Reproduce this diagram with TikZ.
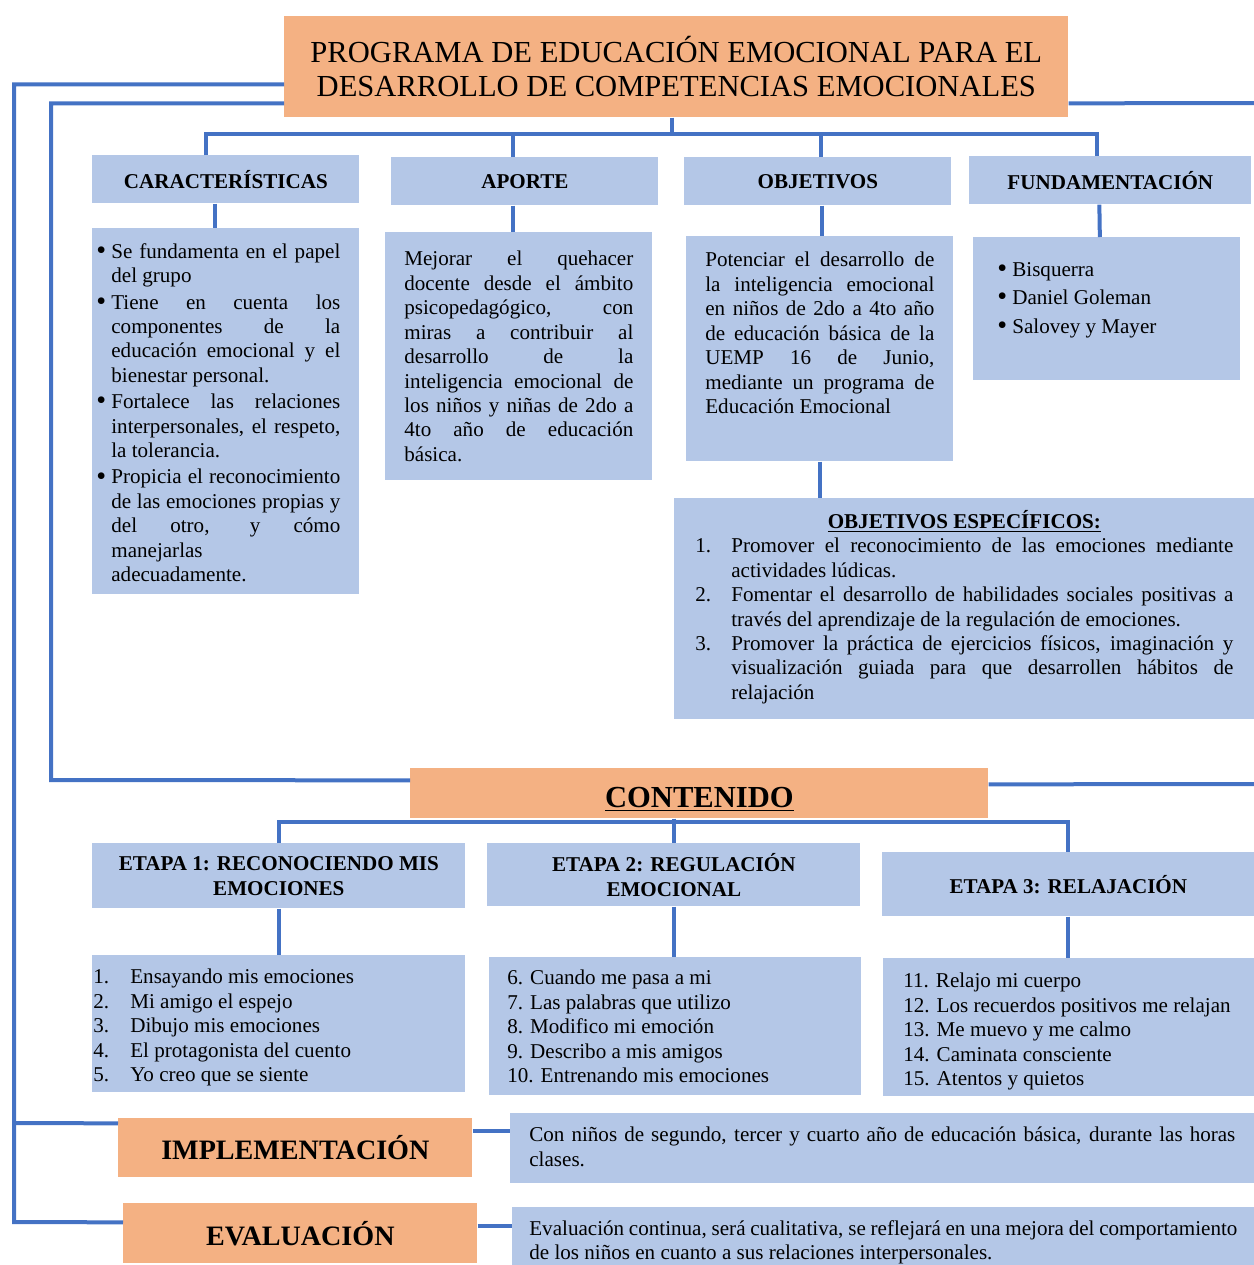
\documentclass[tikz,border=0pt]{standalone}
\usepackage{fontspec}
\setmainfont{Liberation Serif}

\definecolor{naranja}{HTML}{F4B183}
\definecolor{celeste}{HTML}{B4C7E7}
\definecolor{azul}{HTML}{4472C4}

\newlength\pxu
\setlength\pxu{0.02cm}
\newcommand{\txtsize}{\fontsize{12}{13.9}\selectfont}
\newcommand{\punto}{\raisebox{-0.6pt}{\fontsize{16}{16}\selectfont\textbullet}}
\newcommand{\bul}{\par\hangindent=15\pxu\noindent\makebox[15\pxu][l]{\punto}}
\newcommand{\numit}[2]{\par\hangindent=#1\pxu\noindent\makebox[#1\pxu][l]{#2}}
\newcommand{\caja}[3]{\parbox[t][#2\pxu][t]{#1\pxu}{#3}}

\tikzset{
  titulo/.style={fill=naranja, inner sep=0pt, anchor=north west, align=center},
  cabeza/.style={fill=celeste, inner sep=0pt, anchor=north west, align=center,
    font=\bfseries\fontsize{12}{14.2}\selectfont},
  texto/.style={fill=celeste, anchor=north west, font=\txtsize},
  enlace/.style={draw=azul, line width=4\pxu},
}

\begin{document}
\begin{tikzpicture}[x=0.02cm,y=-0.02cm]
\useasboundingbox (0,0) rectangle (1254,1265);

% titulo
\node (prog) [titulo, minimum width=784\pxu, minimum height=101\pxu,
  font=\fontsize{17.4}{19.4}\selectfont] at (284,16)
  {PROGRAMA DE EDUCACIÓN EMOCIONAL PARA EL\\DESARROLLO DE COMPETENCIAS EMOCIONALES};

% cabeceras
\node (carh) [cabeza, minimum width=267\pxu, minimum height=48\pxu] at (92,155) {CARACTERÍSTICAS};
\node (aph) [cabeza, minimum width=267\pxu, minimum height=48\pxu] at (391,157) {APORTE};
\node (objh) [cabeza, minimum width=267\pxu, minimum height=48\pxu] at (684,157) {OBJETIVOS};
\node (funh) [cabeza, minimum width=282\pxu, minimum height=48\pxu] at (969,156) {FUNDAMENTACIÓN};

% contenidos de las cabeceras
\node (carc) [texto, inner xsep=4\pxu, inner ysep=15\pxu] at (92,228) {\caja{259}{336}{%
  \rightskip=15\pxu\parskip=2\pxu
  \bul Se fundamenta en el papel\linebreak del grupo
  \bul Tiene en cuenta los\linebreak componentes de la\linebreak educación emocional y el\linebreak bienestar personal.
  \bul Fortalece las relaciones\linebreak interpersonales, el respeto,\linebreak la tolerancia.
  \bul Propicia el reconocimiento\linebreak de las emociones propias y\linebreak del otro, y cómo\linebreak manejarlas\linebreak adecuadamente.}};
\node (apc) [texto, inner xsep=19\pxu, inner ysep=19\pxu] at (385,232) {\caja{229}{210}{%
  Mejorar el quehacer\linebreak docente desde el ámbito\linebreak psicopedagógico, con\linebreak
  miras a contribuir al\linebreak desarrollo de la\linebreak inteligencia emocional de\linebreak
  los niños y niñas de 2do a\linebreak 4to año de educación\linebreak básica.}};
\node (objc) [texto, inner xsep=19\pxu, inner ysep=16\pxu] at (686,236) {\caja{229}{193}{%
  Potenciar el desarrollo de\linebreak la inteligencia emocional\linebreak en niños de 2do a 4to año\linebreak
  de educación básica de la\linebreak UEMP 16 de Junio,\linebreak mediante un programa de\linebreak
  Educación Emocional}};
\node (func) [texto, inner xsep=24\pxu, inner ysep=25\pxu] at (973,237) {\caja{219}{93}{%
  \parskip=4\pxu
  \bul Bisquerra
  \bul Daniel Goleman
  \bul Salovey y Mayer}};
\node (objesp) [texto, inner xsep=21\pxu, inner ysep=12\pxu] at (674,498) {\caja{538}{197}{%
  {\centering\bfseries\underline{OBJETIVOS ESPECÍFICOS:}\par}
  \numit{36}{1.}Promover el reconocimiento de las emociones mediante\linebreak actividades lúdicas.
  \numit{36}{2.}Fomentar el desarrollo de habilidades sociales positivas a\linebreak través del aprendizaje de la regulación de emociones.
  \numit{36}{3.}Promover la práctica de ejercicios físicos, imaginación y\linebreak visualización guiada para que desarrollen hábitos de\linebreak relajación}};

% contenido
\node (cont) [titulo, minimum width=578\pxu, minimum height=50\pxu,
  font=\bfseries\fontsize{17.4}{19.4}\selectfont] at (410,768)
  {\raisebox{-6\pxu}[\height][\depth]{\underline{CONTENIDO}}};

% etapas
\node (e1h) [cabeza, minimum width=373\pxu, minimum height=65\pxu] at (92,843) {ETAPA 1: RECONOCIENDO MIS\\EMOCIONES};
\node (e2h) [cabeza, minimum width=373\pxu, minimum height=63\pxu] at (487,843) {ETAPA 2: REGULACIÓN\\EMOCIONAL};
\node (e3h) [cabeza, minimum width=372\pxu, minimum height=64\pxu] at (882,852) {ETAPA 3: RELAJACIÓN};

\node (e1c) [texto, inner xsep=1\pxu, inner ysep=14\pxu] at (92,955) {\caja{371}{109}{%
  \numit{37}{1.}Ensayando mis emociones
  \numit{37}{2.}Mi amigo el espejo
  \numit{37}{3.}Dibujo mis emociones
  \numit{37}{4.}El protagonista del cuento
  \numit{37}{5.}Yo creo que se siente}};
\node (e2c) [texto, inner xsep=18\pxu, inner ysep=13\pxu] at (489,957) {\caja{336}{112}{%
  6. Cuando me pasa a mi\\
  7. Las palabras que utilizo\\
  8. Modifico mi emoción\\
  9. Describo a mis amigos\\
  10. Entrenando mis emociones}};
\node (e3c) [texto, inner xsep=20\pxu, inner ysep=15\pxu] at (883,958) {\caja{331}{108}{%
  11. Relajo mi cuerpo\\
  12. Los recuerdos positivos me relajan\\
  13. Me muevo y me calmo\\
  14. Caminata consciente\\
  15. Atentos y quietos}};

% implementacion y evaluacion
\node (implb) [titulo, minimum width=354\pxu, minimum height=59\pxu,
  font=\bfseries\fontsize{16}{18}\selectfont] at (118,1118) {IMPLEMENTACIÓN};
\node (implc) [texto, inner xsep=19\pxu, inner ysep=13\pxu] at (510,1113) {\caja{706}{44}{%
  \fontsize{12}{14.7}\selectfont
  Con niños de segundo, tercer y cuarto año de educación básica, durante las horas\linebreak clases.}};
\node (evalb) [titulo, minimum width=354\pxu, minimum height=60\pxu,
  font=\bfseries\fontsize{16}{18}\selectfont] at (123,1203) {EVALUACIÓN};
\node (evalc) [texto, inner xsep=17\pxu, inner ysep=13\pxu] at (512,1207) {\caja{708}{32}{%
  Evaluación continua, será cualitativa, se reflejará en una mejora del comportamiento\linebreak
  de los niños en cuanto a sus relaciones interpersonales.}};

% puntos de quiebre
\coordinate (b1) at (672,134);
\coordinate (b2) at (671,822);
\coordinate (c2) at (14,1222);
\coordinate (c3) at (14,1123);
\coordinate (c4) at (51,780);
\coordinate (d1) at (1254,103);
\coordinate (d2) at (1254,784);

% conectores
\draw[enlace] ([xshift=-4\pxu]prog.south) -- ++(0,17);
\draw[enlace] ([xshift=-20\pxu]carh.north) |- (b1) -| ([xshift=-13\pxu]funh.north);
\draw[enlace] ([xshift=-12\pxu]aph.north) |- (b1);
\draw[enlace] ([xshift=3\pxu]objh.north) |- (b1);
\draw[enlace] ([xshift=-11\pxu]carh.south) -- ([xshift=-11\pxu]carc.north);
\draw[enlace] ([xshift=-12\pxu]aph.south) -- ([xshift=-6\pxu]apc.north);
\draw[enlace] ([xshift=4\pxu]objh.south) -- ([xshift=2\pxu]objc.north);
\draw[enlace] ([xshift=-11\pxu]funh.south) -- ([xshift=-7\pxu]func.north);
\draw[enlace] (objc.south) -- (objc.south |- objesp.north);

\draw[enlace] ([yshift=-17.5\pxu]prog.west) -| (c2) -- ([yshift=11\pxu]evalb.west);
\draw[enlace] (c3) -- ([yshift=24.5\pxu]implb.west);
\draw[enlace] ([yshift=-36.5\pxu]prog.west) -| (c4) -- ([yshift=13\pxu]cont.west);
\draw[enlace] ([yshift=-36.5\pxu]prog.east) -- (d1);
\draw[enlace] ([yshift=9\pxu]cont.east) -- (d2);

\draw[enlace] (e1h.north) |- (b2) -| (e3h.north);
\draw[enlace] (cont.south -| e2h.north) -- (e2h.north);
\draw[enlace] (e1h.south) -- (e1h.south |- e1c.north);
\draw[enlace] (e2h.south) -- (e2h.south |- e2c.north);
\draw[enlace] (e3h.south) -- (e3h.south |- e3c.north);

\draw[enlace] ([yshift=16.5\pxu]implb.east) -- ([yshift=17\pxu]implc.west);
\draw[enlace] ([yshift=7\pxu]evalb.east) -- ([yshift=10\pxu]evalc.west);
\end{tikzpicture}
\end{document}
